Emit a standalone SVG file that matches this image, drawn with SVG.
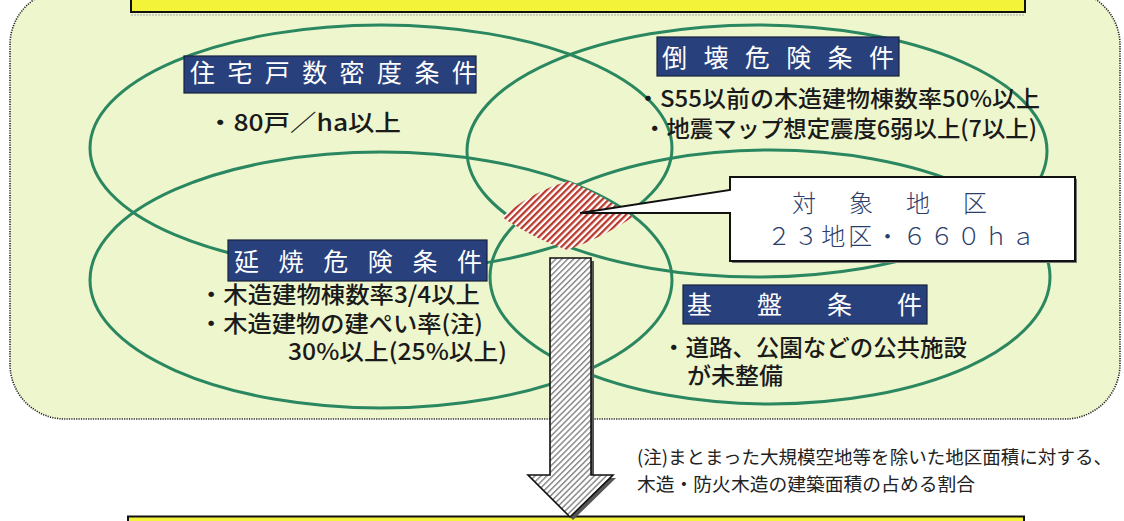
<svg xmlns="http://www.w3.org/2000/svg" width="1124" height="521" viewBox="0 0 1124 521">
<defs>
<style>
.ell{fill:none;stroke:#2b8760;stroke-width:3}
.lbl{fill:#28407c;stroke:#18223f;stroke-width:1.2}
.lt{font-family:'Noto Sans CJK JP','Noto Sans CJK SC',sans-serif;fill:#ffffff;font-size:25px}
.bt{font-family:'Noto Sans CJK JP','Noto Sans CJK SC',sans-serif;fill:#1a1a1a;font-size:23px;font-weight:500}
.nt{font-family:'Noto Sans CJK JP','Noto Sans CJK SC',sans-serif;fill:#222222;font-size:18.5px}
.ct{font-family:'Noto Sans CJK JP','Noto Sans CJK SC',sans-serif;fill:#2b3d6b;font-size:24px;font-weight:300}
.yb{fill:#f3f33a;stroke:#111111;stroke-width:2}
</style>
<pattern id="redHatch" patternUnits="userSpaceOnUse" width="4.6" height="10" patternTransform="rotate(45)">
<rect width="4.6" height="10" fill="#ffffff"/>
<rect width="2.3" height="10" fill="#b83a2c"/>
</pattern>
<pattern id="grayHatch" patternUnits="userSpaceOnUse" width="4.2" height="10" patternTransform="rotate(45)">
<rect width="4.2" height="10" fill="#ffffff"/>
<rect width="1.5" height="10" fill="#8a8a8a"/>
</pattern>
</defs>

<rect x="0" y="0" width="1124" height="521" fill="#ffffff"/>

<g id="area">
<rect x="10" y="-10" width="1110" height="429" rx="55" fill="#eef6cd" stroke="#222222" stroke-width="1.6" stroke-dasharray="1.2 1.2"/>
</g>

<g id="top-banner">
<rect class="yb" x="131" y="-4" width="894" height="16"/>
<line x1="131" y1="15" x2="1025" y2="15" stroke="#aaaaaa" stroke-width="1" stroke-dasharray="2 1"/>
</g>

<g id="ellipses">
<ellipse class="ell" cx="381" cy="148" rx="291" ry="123"/>
<ellipse class="ell" cx="757" cy="151" rx="290" ry="126"/>
<ellipse class="ell" cx="381" cy="280" rx="291" ry="128"/>
<ellipse class="ell" cx="770" cy="277" rx="280" ry="127"/>
</g>

<g id="target-zone">
<path d="M502,217 Q531,192 568,181 Q603,195 633,217 Q602,238 567,250 Q532,238 502,217 Z" fill="url(#redHatch)"/>
</g>

<g id="node-density">
<rect class="lbl" x="184" y="56" width="292" height="37"/>
<text class="lt" x="190" y="82" font-size="24" letter-spacing="12.4">住宅戸数密度条件</text>
<text class="bt" x="207" y="131" font-size="25" textLength="194" lengthAdjust="spacingAndGlyphs">・80戸／ha以上</text>
</g>

<g id="node-collapse">
<rect class="lbl" x="657" y="37" width="242" height="39"/>
<text class="lt" x="662" y="67" letter-spacing="16.4">倒壊危険条件</text>
<text class="bt" x="636" y="107" textLength="404" lengthAdjust="spacingAndGlyphs">・S55以前の木造建物棟数率50%以上</text>
<text class="bt" x="643" y="137" textLength="394" lengthAdjust="spacingAndGlyphs">・地震マップ想定震度6弱以上(7以上)</text>
</g>

<g id="node-fire">
<rect class="lbl" x="228" y="240" width="259" height="41"/>
<text class="lt" x="234" y="271" letter-spacing="19.6">延焼危険条件</text>
<text class="bt" x="199" y="303" textLength="281" lengthAdjust="spacingAndGlyphs">・木造建物棟数率3/4以上</text>
<text class="bt" x="199" y="332" textLength="284" lengthAdjust="spacingAndGlyphs">・木造建物の建ぺい率(注)</text>
<text class="bt" x="288" y="360" textLength="219" lengthAdjust="spacingAndGlyphs">30%以上(25%以上)</text>
</g>

<g id="node-infra">
<rect class="lbl" x="683" y="285" width="244" height="39"/>
<text class="lt" x="687" y="314" letter-spacing="45">基盤条件</text>
<text class="bt" x="662" y="356" textLength="305" lengthAdjust="spacingAndGlyphs">・道路、公園などの公共施設</text>
<text class="bt" x="687" y="384" textLength="96" lengthAdjust="spacingAndGlyphs">が未整備</text>
</g>

<g id="connectors">
<rect x="732" y="179" width="345" height="84" fill="#777777"/>
<path d="M730,177 H1075 V261 H730 V213 L580,213 L730,190 Z" fill="#ffffff" stroke="#111111" stroke-width="2" stroke-linejoin="miter"/>
</g>

<g id="node-target">
<text class="ct" x="792" y="212" letter-spacing="33">対象地区</text>
<text class="ct" x="767" y="245" font-size="25" textLength="268" lengthAdjust="spacing">２３地区・６６０ｈａ</text>
</g>

<g id="note">
<text class="nt" x="637" y="464" textLength="475" lengthAdjust="spacingAndGlyphs">(注)まとまった大規模空地等を除いた地区面積に対する、</text>
<text class="nt" x="637" y="491" textLength="338" lengthAdjust="spacingAndGlyphs">木造・防火木造の建築面積の占める割合</text>
</g>

<g id="bottom-banner">
<rect class="yb" x="128" y="516.5" width="896" height="12"/>
</g>

<g id="arrow">
<path d="M553,261 H594 V478 H616 L573,520 L531,478 H553 Z" fill="#555555"/>
<path d="M550,258 H591 V475 H613 L570,517 L528,475 H550 Z" fill="url(#grayHatch)" stroke="#111111" stroke-width="1.6" stroke-linejoin="miter"/>
</g>
</svg>
